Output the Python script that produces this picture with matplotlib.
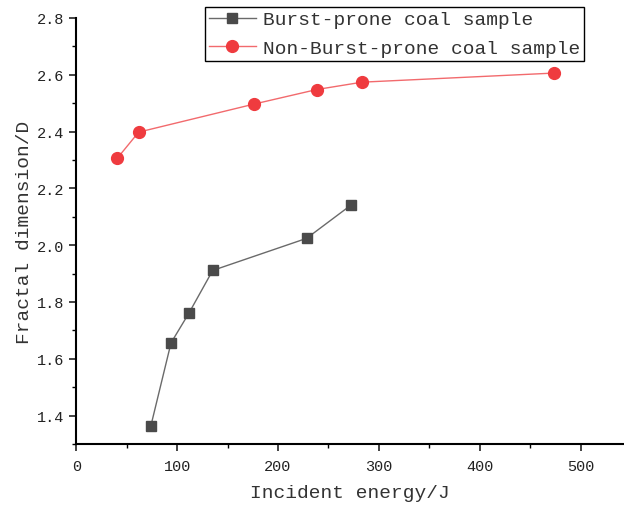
# coding:utf8
import numpy as np
import matplotlib.pyplot as plt
from matplotlib import rcParams
from matplotlib.ticker import MultipleLocator

rcParams['font.family'] = ['Liberation Mono', 'DejaVu Sans Mono']
rcParams['font.size'] = 14.0

# data
burst_x = [74.0, 93.9, 111.7, 135.2, 228.3, 271.9]
burst_y = [1.365, 1.656, 1.761, 1.911, 2.024, 2.140]
nonburst_x = [40.6, 61.8, 176.4, 238.3, 283.4, 473.7]
nonburst_y = [2.306, 2.398, 2.497, 2.548, 2.574, 2.606]
labels = ["Burst-prone coal sample", "Non-Burst-prone coal sample"]

fig = plt.figure(figsize=(6.24, 5.06), dpi=100)
ax = fig.add_axes([0.1223, 0.1206, 0.8777, 0.8419])

ax.plot(burst_x, burst_y, color='#6a6a6a', lw=1.0, marker='s', ms=7.5,
        mfc='#4a4a4a', mec='#4a4a4a', label=labels[0])
ax.plot(nonburst_x, nonburst_y, color='#f26a6d', lw=1.0, marker='o', ms=8.5,
        mfc='#ef3b3f', mec='#ef3b3f', label=labels[1])

ax.set_xlim(0, 543)
ax.set_ylim(1.3, 2.8)
ax.xaxis.set_major_locator(MultipleLocator(100))
ax.xaxis.set_minor_locator(MultipleLocator(50))
ax.yaxis.set_major_locator(MultipleLocator(0.2))
ax.yaxis.set_minor_locator(MultipleLocator(0.1))
ax.yaxis.set_major_formatter(plt.FuncFormatter(lambda v, p: "%.1f" % v))

for s in ['top', 'right']:
    ax.spines[s].set_visible(False)
for s in ['left', 'bottom']:
    ax.spines[s].set_linewidth(1.5)
ax.tick_params(which='major', direction='out', length=5, width=1.2,
               labelsize=11, colors='#222222')
ax.tick_params(axis='x', which='major', pad=6)
ax.tick_params(axis='y', which='major', pad=3.5)
ax.tick_params(which='minor', direction='out', length=3, width=1.0)

ax.set_xlabel("Incident energy/J", fontsize=14, color='#333333', labelpad=8)
ax.set_ylabel("Fractal dimension/D", fontsize=14, color='#333333', labelpad=3)

leg = ax.legend(loc='upper left', bbox_to_anchor=(0.235, 1.026),
                borderaxespad=0, fancybox=False, framealpha=1,
                edgecolor='black', fontsize=14, handlelength=2.4,
                labelspacing=0.55, borderpad=0.2, handletextpad=0.4)
leg.get_frame().set_linewidth(1.0)
leg.set_zorder(5)
for t in leg.get_texts():
    t.set_color('#333333')

plt.savefig("out.png", dpi=100)
